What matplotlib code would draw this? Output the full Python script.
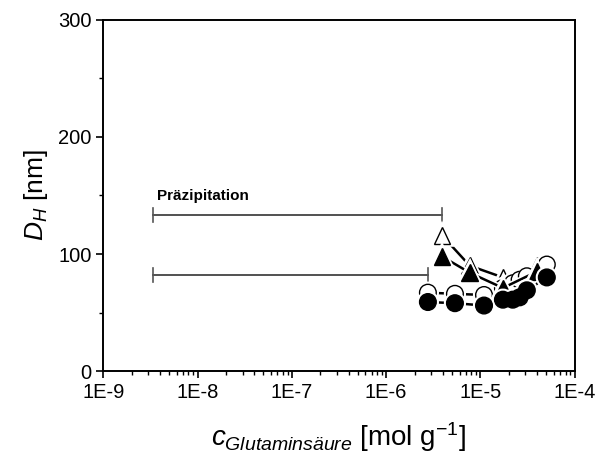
import matplotlib
matplotlib.use("Agg")
import matplotlib.pyplot as plt
import matplotlib.patheffects as pe
from matplotlib.ticker import LogLocator, FixedLocator, NullFormatter

plt.rcParams['font.family'] = ['Liberation Sans', 'DejaVu Sans']
plt.rcParams['mathtext.fontset'] = 'custom'
plt.rcParams['mathtext.rm'] = 'Liberation Sans'
plt.rcParams['mathtext.it'] = 'Liberation Sans:italic'
plt.rcParams['mathtext.bf'] = 'Liberation Sans:bold'

# data
x_tri = [3.9e-6, 7.7e-6, 1.73e-5, 3.96e-5]
y_tri_open = [116, 90, 80, 90]
y_tri_fill = [98, 84, 71, 85]

x_circ = [2.77e-6, 5.36e-6, 1.09e-5, 1.73e-5, 2.2e-5, 2.6e-5, 3.1e-5, 5.05e-5]
y_circ_open = [67, 66, 65, 71, 75, 78, 81, 91]
y_circ_fill = [59, 58, 56, 61, 61, 63, 69, 80]

# precipitation ranges: (start, end, level)
prec_start = [3.4e-9, 3.4e-9]
prec_end = [3.9e-6, 2.77e-6]
prec_level = [133, 82]

fig = plt.figure(figsize=(6, 4.61), dpi=100)
ax = fig.add_axes([0.172, 0.195, 0.786, 0.762])

halo = [pe.Stroke(linewidth=4, foreground='white'), pe.Normal()]
ms = 12

ax.plot(x_tri, y_tri_open, '-^', color='black', mfc='white', mec='black',
        lw=1.8, ms=ms, mew=1.0, path_effects=halo, zorder=3)
ax.plot(x_circ, y_circ_open, '-o', color='black', mfc='white', mec='black',
        lw=1.8, ms=ms, mew=1.0, path_effects=halo, zorder=3)
ax.plot(x_tri, y_tri_fill, '-^', color='black', mfc='black', mec='black',
        lw=1.8, ms=ms, path_effects=halo, zorder=4)
ax.plot(x_circ, y_circ_fill, '-o', color='black', mfc='black', mec='black',
        lw=1.8, ms=ms, path_effects=halo, zorder=4)

# Präzipitation range bars
for s, e, lv in zip(prec_start, prec_end, prec_level):
    ax.plot([s, e], [lv, lv], color='#333333', lw=1.2, zorder=2)
    ax.plot([s, s], [lv - 6, lv + 6], color='#555555', lw=1.2, zorder=2)
    ax.plot([e, e], [lv - 6, lv + 6], color='#555555', lw=1.2, zorder=2)

ax.text(3.7e-9, 146, 'Präzipitation', fontsize=11, fontweight='bold')

ax.set_xscale('log')
ax.set_xlim(1e-9, 1e-4)
ax.set_ylim(0, 300)
ax.xaxis.set_minor_locator(LogLocator(base=10, subs=range(2, 10), numticks=20))
ax.xaxis.set_minor_formatter(NullFormatter())
ax.set_xticks([1e-9, 1e-8, 1e-7, 1e-6, 1e-5, 1e-4])
ax.set_xticklabels(['1E-9', '1E-8', '1E-7', '1E-6', '1E-5', '1E-4'])
ax.set_yticks([0, 100, 200, 300])
ax.yaxis.set_minor_locator(FixedLocator([50, 150, 250]))

ax.tick_params(which='major', direction='out', length=5, width=1.2, labelsize=14.5)
ax.tick_params(which='minor', direction='out', length=3, width=1.0)
for sp in ax.spines.values():
    sp.set_linewidth(1.4)

ax.set_xlabel(r'$c_{Glutaminsäure}$ [mol g$^{-1}$]', fontsize=20, labelpad=13)
ax.set_ylabel(r'$D_H$ [nm]', fontsize=19, labelpad=6)

fig.savefig('out.png', dpi=100)
